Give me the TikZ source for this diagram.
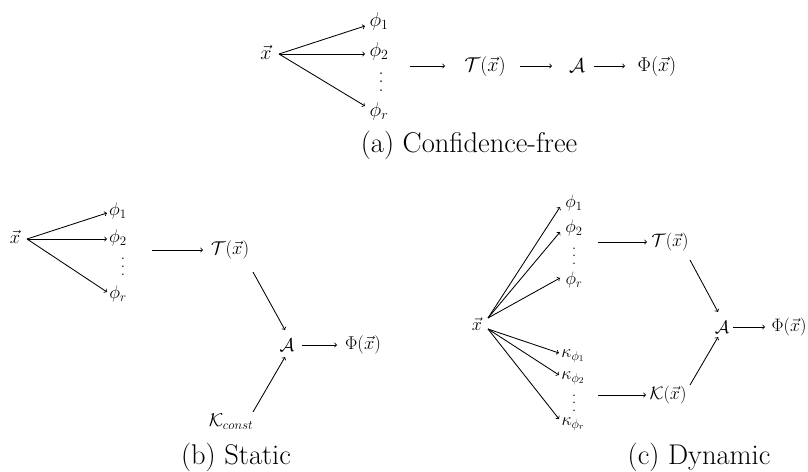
\RequirePackage{fix-cm}
\documentclass[tikz,border=0pt]{standalone}
\usepackage{amsmath}
\newcommand{\myvdots}{\vbox{\baselineskip=0.42em\lineskiplimit=-10pt\hbox{.}\hbox{.}\hbox{.}}}
\begin{document}
\begin{tikzpicture}[x=1pt,y=-1pt,
  lbl/.style={inner sep=0pt},
  fa/.style={lbl,font=\fontsize{20}{24}\selectfont},
  fb/.style={lbl,font=\fontsize{18.5}{22}\selectfont},
  fc/.style={lbl,font=\fontsize{18}{22}\selectfont},
  captext/.style={lbl,font=\fontsize{28.5}{34}\selectfont},
  arr/.style={->,line width=0.85pt}]
\useasboundingbox (0,0) rectangle (808,471);

% ---------------- (a) Confidence-free ----------------
\node[fa] (xa)  at (266,52) {$\vec{x}$};
\node[fa] (pa1) at (379,21) {$\phi_1$};
\node[fa] (pa2) at (379,51) {$\phi_2$};
\node[fa] (pad) at (381,82) {\myvdots};
\node[fa] (par) at (379,111) {$\phi_r$};
\coordinate (ain) at (410,66);
\node[fa] (Ta) at (485,66) {$\mathcal{T}(\vec{x})$};
\node[fa] (Aa) at (577,66) {$\mathcal{A}$};
\node[fa] (Pa) at (657,66) {$\Phi(\vec{x})$};
\node[captext] (capa) at (469,145) {(a) Confidence-free};

\draw[arr] ([shift={(13,2)}]xa.center) -- ([shift={(-14,5)}]pa1.center);
\draw[arr] ([shift={(13,2)}]xa.center) -- ([shift={(-14,3)}]pa2.center);
\draw[arr] ([shift={(13,2)}]xa.center) -- ([shift={(-14,-5)}]par.center);
\draw[arr] (ain) -- ([shift={(-40,0)}]Ta.center);
\draw[arr] ([shift={(35,0)}]Ta.center) -- ([shift={(-25,0)}]Aa.center);
\draw[arr] ([shift={(17,0)}]Aa.center) -- ([shift={(-32,0)}]Pa.center);

% ---------------- (b) Static ----------------
\node[fb] (xb)  at (15,237) {$\vec{x}$};
\node[fb] (pb1) at (118,211) {$\phi_1$};
\node[fb] (pb2) at (118,238) {$\phi_2$};
\node[fb] (pbd) at (123,267) {\myvdots};
\node[fb] (pbr) at (118,294) {$\phi_r$};
\coordinate (bin) at (152,250);
\node[fb] (Tb) at (230,250) {$\mathcal{T}(\vec{x})$};
\node[fb] (Ab) at (287,345) {$\mathcal{A}$};
\node[fb] (Pb) at (363,345) {$\Phi(\vec{x})$};
\node[fb] (Kb) at (231,422) {$\mathcal{K}_{const}$};
\node[captext] (capb) at (236,457) {(b) Static};

\draw[arr] ([shift={(12,2)}]xb.center) -- ([shift={(-11,2)}]pb1.center);
\draw[arr] ([shift={(12,2)}]xb.center) -- ([shift={(-11,1)}]pb2.center);
\draw[arr] ([shift={(12,2)}]xb.center) -- ([shift={(-11,-2)}]pbr.center);
\draw[arr] (bin) -- ([shift={(-27,0)}]Tb.center);
\draw[arr] ([shift={(23,22)}]Tb.center) -- ([shift={(-2,-15)}]Ab.center);
\draw[arr] ([shift={(22,-10)}]Kb.center) -- ([shift={(-2,12)}]Ab.center);
\draw[arr] ([shift={(15,0)}]Ab.center) -- ([shift={(-26,0)}]Pb.center);

% ---------------- (c) Dynamic ----------------
\node[fc] (xc)  at (477,324) {$\vec{x}$};
\node[fc] (pc1) at (574,203) {$\phi_1$};
\node[fc] (pc2) at (574,228) {$\phi_2$};
\node[fc] (pcd) at (574,256) {\myvdots};
\node[fc] (pcr) at (574,280) {$\phi_r$};
\node[fc] (kc1) at (573,356) {$\kappa_{\phi_1}$};
\node[fc] (kc2) at (573,378) {$\kappa_{\phi_2}$};
\node[fc] (kcd) at (574,403) {\myvdots};
\node[fc] (kcr) at (573,424) {$\kappa_{\phi_r}$};
\coordinate (cin) at (598,242);
\coordinate (kin) at (598,395);
\node[fc] (Tc) at (670,242) {$\mathcal{T}(\vec{x})$};
\node[fc] (Kc) at (668,395) {$\mathcal{K}(\vec{x})$};
\node[fc] (Ac) at (722,327) {$\mathcal{A}$};
\node[fc] (Pc) at (789,327) {$\Phi(\vec{x})$};
\node[captext] (capc) at (699,457) {(c) Dynamic};

\draw[arr] ([shift={(11,-6)}]xc.center) -- ([shift={(-14,4)}]pc1.center);
\draw[arr] ([shift={(11,-6)}]xc.center) -- ([shift={(-14,4)}]pc2.center);
\draw[arr] ([shift={(11,-6)}]xc.center) -- ([shift={(-14,-2)}]pcr.center);
\draw[arr] ([shift={(11,5)}]xc.center) -- ([shift={(-14,-3)}]kc1.center);
\draw[arr] ([shift={(11,5)}]xc.center) -- ([shift={(-14,-3)}]kc2.center);
\draw[arr] ([shift={(11,5)}]xc.center) -- ([shift={(-14,-5)}]kcr.center);
\draw[arr] (cin) -- ([shift={(-23,0)}]Tc.center);
\draw[arr] (kin) -- ([shift={(-22,0)}]Kc.center);
\draw[arr] ([shift={(20,18)}]Tc.center) -- ([shift={(-4,-15)}]Ac.center);
\draw[arr] ([shift={(22,-10)}]Kc.center) -- ([shift={(-4,10)}]Ac.center);
\draw[arr] ([shift={(11,0)}]Ac.center) -- ([shift={(-24,0)}]Pc.center);
\end{tikzpicture}
\end{document}
